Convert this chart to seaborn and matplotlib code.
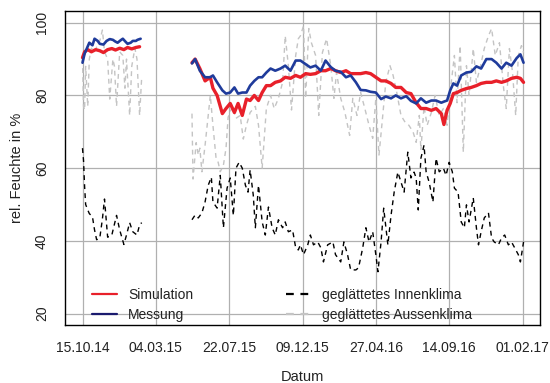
import numpy as np
import pandas as pd
import matplotlib
matplotlib.use("Agg")
import matplotlib.pyplot as plt
from matplotlib.lines import Line2D
import seaborn as sns

# ---------------- data (days since 15.10.14) ----------------
tick_days = [0, 140, 280, 420, 560, 700, 840]
tick_labels = ["15.10.14", "04.03.15", "22.07.15", "09.12.15", "27.04.16", "14.09.16", "01.02.17"]
y_ticks = [20, 40, 60, 80, 100]

# Simulation (red)
sim_days1 = [0, 4, 10, 17, 25, 33, 40, 48, 56, 63, 71, 79, 86, 94, 102, 109]
sim_vals1 = [90.4, 92.0, 92.6, 92.0, 92.6, 92.3, 91.8, 92.6, 92.9, 92.5, 93.0, 92.6, 93.2, 92.8, 93.2, 93.4]

# Messung (blue)
mes_days1 = [0, 4, 10, 13, 19, 23, 29, 33, 40, 46, 52, 58, 63, 67, 73, 77, 82, 86, 92, 96, 102, 105, 111]
mes_vals1 = [89.0, 91.5, 93.5, 94.5, 93.8, 95.6, 95.0, 94.2, 94.0, 95.0, 95.5, 95.3, 94.8, 94.5, 95.2,
             95.6, 94.8, 94.2, 94.5, 95.0, 95.0, 95.3, 95.6]

days2 = [209, 215, 224, 234, 244, 249, 257, 267, 274, 282, 290, 297, 305, 313, 320, 328, 336, 343, 351,
         359, 368, 378, 387, 397, 407, 416, 426, 435, 445, 455, 464, 474, 483, 493, 503, 512, 522, 531,
         541, 550, 560, 570, 579, 589, 598, 608, 618, 627, 637, 646, 656, 666, 675, 685, 690, 696, 702,
         708, 715, 723, 733, 742, 752, 761, 771, 781, 790, 800, 809, 819, 829, 836, 842]
sim_vals2 = [89.0, 90.0, 87.4, 84.0, 85.0, 82.0, 80.0, 75.0, 76.4, 77.8, 75.3, 77.8, 74.5, 79.0, 78.6,
             80.0, 78.6, 80.8, 82.7, 82.7, 83.6, 84.0, 85.0, 84.7, 85.5, 85.0, 86.0, 85.8, 86.0, 86.8,
             86.8, 87.4, 86.8, 86.3, 86.8, 86.0, 86.0, 86.0, 86.3, 86.0, 85.0, 84.0, 84.0, 83.3, 82.2,
             82.2, 80.8, 80.5, 78.0, 76.4, 76.4, 75.9, 76.4, 75.0, 72.0, 75.9, 77.8, 80.5, 80.8, 81.4,
             81.9, 82.2, 82.7, 83.3, 83.6, 83.6, 84.0, 83.6, 84.0, 84.7, 85.0, 84.7, 83.6]
mes_vals2 = [88.8, 90.0, 86.8, 85.0, 85.0, 85.5, 83.6, 81.4, 80.5, 80.8, 82.2, 80.5, 80.8, 80.8, 82.7,
             84.0, 85.0, 85.0, 86.3, 87.4, 86.8, 87.4, 88.2, 86.8, 89.6, 89.6, 88.6, 87.7, 88.2, 86.8,
             89.6, 87.8, 86.8, 86.5, 85.0, 85.5, 83.6, 81.5, 81.4, 81.0, 80.8, 79.0, 79.7, 79.2, 80.0,
             79.2, 79.8, 78.5, 77.8, 79.2, 78.0, 78.6, 78.6, 78.0, 78.3, 78.6, 81.4, 83.3, 82.7, 85.5,
             86.3, 86.5, 88.0, 87.4, 90.0, 90.0, 89.0, 87.4, 89.0, 88.2, 90.3, 91.3, 89.0]

# geglaettetes Innenklima (black dashed)
inn_days1 = [0, 2, 4, 6, 10, 13, 19, 23, 27, 33, 38, 42, 48, 56, 65, 71, 79, 84, 90, 96, 104, 109, 113]
inn_vals1 = [65.5, 62.0, 55.0, 50.0, 48.5, 47.5, 46.6, 43.0, 40.3, 40.8, 46.0, 51.5, 41.0, 41.6, 47.0,
             43.0, 39.0, 41.6, 45.0, 42.5, 41.6, 44.4, 45.0]
inn_days2 = [209, 215, 221, 228, 234, 240, 246, 249, 257, 263, 269, 276, 282, 288, 293, 299, 305, 311,
             316, 320, 326, 330, 336, 343, 349, 355, 362, 368, 374, 382, 387, 393, 401, 407, 412, 416,
             422, 430, 435, 441, 449, 455, 460, 468, 478, 483, 493, 499, 506, 512, 522, 527, 535, 541,
             547, 554, 560, 564, 570, 575, 583, 589, 595, 602, 608, 614, 621, 627, 633, 637, 641, 646,
             652, 656, 662, 669, 675, 681, 689, 694, 700, 706, 710, 717, 723, 729, 733, 738, 746, 752,
             756, 761, 767, 775, 781, 786, 794, 800, 806, 813, 819, 825, 832, 836, 842]
inn_vals2 = [45.8, 47.1, 46.3, 47.7, 50.7, 55.3, 57.5, 50.7, 49.0, 58.0, 43.6, 54.5, 57.3, 47.0, 60.0,
             61.6, 60.0, 55.3, 53.4, 59.5, 52.6, 43.6, 55.3, 45.2, 41.6, 49.3, 43.6, 41.6, 45.8, 43.6,
             45.2, 42.5, 43.0, 38.1, 37.5, 38.9, 36.2, 38.9, 41.6, 38.9, 39.7, 38.1, 34.2, 38.9, 39.7,
             36.2, 34.2, 39.7, 36.2, 32.0, 32.0, 32.6, 38.1, 43.6, 39.7, 42.5, 36.2, 31.5, 39.7, 49.0,
             38.9, 47.0, 53.4, 58.9, 56.2, 53.4, 64.4, 57.3, 58.9, 57.3, 48.5, 62.7, 66.3, 59.0, 56.0,
             50.7, 62.7, 59.0, 60.0, 58.0, 61.6, 59.0, 54.5, 53.4, 45.2, 43.6, 49.9, 45.2, 51.8, 43.6,
             38.9, 42.5, 46.3, 47.7, 40.8, 39.7, 38.9, 40.8, 41.6, 38.9, 39.7, 38.1, 36.2, 34.2, 39.7]

# geglaettetes Aussenklima (light grey dashed)
aus_days1 = [0, 2, 4, 6, 10, 13, 17, 23, 29, 33, 38, 42, 48, 52, 58, 61, 65, 71, 77, 81, 84, 90, 94,
             100, 104, 109, 113]
aus_vals1 = [90.0, 77.0, 76.0, 88.0, 77.0, 90.0, 93.0, 92.0, 94.0, 95.0, 98.0, 92.0, 90.0, 79.0, 90.0,
             88.0, 77.0, 92.0, 91.0, 82.0, 90.0, 74.5, 88.0, 93.0, 90.0, 74.5, 85.0]
aus_days2 = [209, 211, 217, 221, 224, 228, 234, 240, 244, 249, 255, 259, 263, 269, 274, 278, 286, 293,
             301, 307, 313, 320, 330, 336, 343, 351, 359, 366, 374, 382, 387, 393, 399, 407, 412, 416,
             422, 426, 432, 437, 445, 451, 458, 466, 474, 480, 485, 493, 501, 510, 516, 524, 531, 539,
             547, 554, 560, 566, 572, 579, 587, 593, 600, 608, 616, 623, 631, 637, 643, 646, 652, 658,
             666, 673, 681, 689, 696, 704, 710, 715, 721, 727, 733, 738, 746, 752, 760, 767, 775, 781,
             788, 796, 804, 809, 815, 821, 827, 832, 838, 842]
aus_vals2 = [75.0, 57.0, 67.0, 63.6, 65.5, 59.0, 66.3, 74.5, 80.0, 71.8, 62.7, 61.6, 59.0, 60.8, 65.5,
             74.0, 77.0, 73.7, 74.5, 68.0, 71.8, 75.3, 77.0, 71.8, 60.0, 76.4, 80.0, 76.4, 79.2, 83.6,
             96.4, 88.2, 76.0, 91.0, 95.6, 96.4, 99.2, 79.2, 98.4, 94.5, 91.0, 74.5, 91.8, 95.6, 88.2,
             79.2, 86.3, 79.2, 75.3, 69.0, 79.2, 74.5, 80.8, 76.4, 71.8, 68.2, 79.2, 63.6, 72.6, 83.6,
             88.2, 85.5, 80.8, 74.5, 72.6, 71.8, 70.0, 67.1, 74.5, 65.0, 77.0, 71.8, 75.3, 80.0, 74.5,
             76.4, 71.8, 83.6, 91.0, 78.0, 93.7, 64.4, 88.2, 80.0, 92.9, 83.6, 88.2, 92.9, 96.4, 98.4,
             91.0, 94.5, 81.9, 76.4, 92.9, 86.3, 74.5, 91.0, 93.7, 91.8]


def segments(*pairs):
    frames = []
    for i, (d, v) in enumerate(pairs):
        frames.append(pd.DataFrame({"day": d, "val": v, "seg": i}))
    return pd.concat(frames, ignore_index=True)


df_sim = segments((sim_days1, sim_vals1), (days2, sim_vals2))
df_mes = segments((mes_days1, mes_vals1), (days2, mes_vals2))
df_inn = segments((inn_days1, inn_vals1), (inn_days2, inn_vals2))
df_aus = segments((aus_days1, aus_vals1), (aus_days2, aus_vals2))

# ---------------- style ----------------
sns.set_style("white")
plt.rcParams["font.family"] = ["Liberation Sans", "DejaVu Sans"]

RED = "#e8202a"
BLUE = "#1f3b9b"
GREY = "#c4c4c4"

fig = plt.figure(figsize=(5.5, 3.83), dpi=100)
ax = fig.add_axes([0.118, 0.151, 0.864, 0.820])

dash = (0, (3.5, 3))
sns.lineplot(data=df_aus, x="day", y="val", units="seg", estimator=None, color=GREY,
             lw=1.0, linestyle=dash, ax=ax, zorder=2)
sns.lineplot(data=df_inn, x="day", y="val", units="seg", estimator=None, color="black",
             lw=1.0, linestyle=dash, ax=ax, zorder=3)
sns.lineplot(data=df_sim, x="day", y="val", units="seg", estimator=None, color=RED,
             lw=2.4, ax=ax, zorder=4)
sns.lineplot(data=df_mes, x="day", y="val", units="seg", estimator=None, color=BLUE,
             lw=1.9, ax=ax, zorder=5)

ax.set_xlim(-33.6, 873.6)
ax.set_ylim(16.8, 103.2)
ax.set_xticks(tick_days)
ax.set_xticklabels(tick_labels)
ax.set_yticks(y_ticks)
ax.set_yticklabels([str(v) for v in y_ticks], rotation=90, va="center")

for d in tick_days:
    ax.axvline(d, color="#b0b0b0", lw=0.9, zorder=1)
for v in y_ticks:
    ax.axhline(v, color="#b0b0b0", lw=0.9, zorder=1)

ax.tick_params(axis="both", direction="out", length=4.5, width=0.8, color="black",
               labelsize=10, labelcolor="#222222")
ax.tick_params(axis="x", pad=7)
ax.tick_params(axis="y", pad=7)
ax.set_xlabel("Datum", fontsize=10.5, color="#222222", labelpad=11)
ax.set_ylabel("rel. Feuchte in %", fontsize=10.5, color="#222222", labelpad=8)
for s in ax.spines.values():
    s.set_color("black")
    s.set_linewidth(1.0)
    s.set_visible(True)

handles = [
    Line2D([], [], color=RED, lw=1.6),
    Line2D([], [], color="#1a1a6e", lw=1.6),
    Line2D([], [], color="black", lw=1.6, linestyle=(0, (3.5, 3))),
    Line2D([], [], color=GREY, lw=1.6, linestyle=(0, (3.5, 3))),
]
labels = ["Simulation", "Messung", "geglättetes Innenklima", "geglättetes Aussenklima"]
ax.legend(handles, labels, ncol=2, frameon=False, loc="upper left",
          bbox_to_anchor=(0.057, 0.118), borderaxespad=0, borderpad=0,
          handlelength=1.8, handletextpad=0.8, columnspacing=6.7,
          labelspacing=0.4, fontsize=10, labelcolor="#222222")

fig.savefig("out.png", dpi=100)
